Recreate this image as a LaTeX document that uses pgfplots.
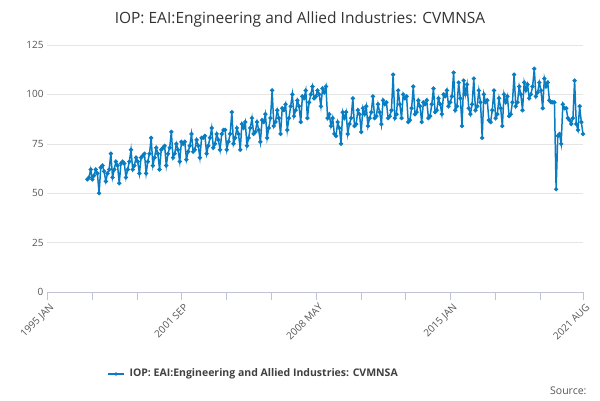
\documentclass[border=0pt]{standalone}
\usepackage{pgfplots}
\pgfplotsset{compat=1.18}
\usepackage{fontspec}
\setmainfont{Open Sans}
\definecolor{ln}{HTML}{0A7DC2}
\definecolor{tx}{HTML}{555555}
\begin{document}
\begin{tikzpicture}[x=1pt,y=1pt]
\useasboundingbox (0,0) rectangle (600,400);
\node[font=\fontsize{15.5}{18}\selectfont, text=black!80] at (300,381) {IOP: EAI:Engineering and Allied Industries: CVMNSA};
\begin{axis}[at={(47pt,108pt)},anchor=south west,scale only axis,width=536pt,height=247pt,
 xmin=0,xmax=319,ymin=0,ymax=125,
 axis x line*=bottom, axis y line*=left, y axis line style={draw=none}, x axis line style={color=blue!20!gray!40},
 ytick={0,25,...,125}, ymajorgrids, grid style={gray!20},
 ytick style={draw=none},
 y tick label style={font=\fontsize{10}{12}\selectfont,text=tx},
 /pgf/number format/assume math mode=true,
 xtick={0,80,160,240,319}, xticklabels={1995 JAN,2001 SEP,2008 MAY,2015 JAN,2021 AUG},
 minor xtick={26.67,53.33,106.67,133.33,186.67,213.33,266.67,293.33},
 x tick style={color=blue!20!gray!40}, major tick length=8pt, minor tick length=8pt,
 xtick align=outside,
 x tick label style={rotate=45,anchor=north east,font=\fontsize{10}{12}\selectfont,text=tx,xshift=3pt},
 clip=false]
\addplot[ln,line width=1.5pt,mark=*,mark size=1.3pt] table[x expr=\coordindex+24,y index=0,header=false] {
57
58
62
57
59
62
60
50
63
64
61
56
60
62
70
58
62
66
64
55
65
66
65
58
62
66
72
62
64
68
66
60
68
69
70
60
66
70
78
64
68
73
70
62
72
73
74
64
70
73
81
68
70
75
72
66
76
75
76
67
71
74
80
71
72
77
74
68
78
78
79
70
74
78
83
73
75
80
77
72
80
82
82
72
76
80
91
75
78
83
80
72
85
83
86
74
78
83
88
80
81
86
82
76
87
86
90
78
83
88
102
84
86
92
88
80
93
92
95
82
88
94
100
89
92
97
94
86
99
98
102
88
96
100
104
98
99
102
100
94
103
101
104
88
90
84
88
80
79
86
83
75
91
88
91
80
85
88
98
84
85
92
90
81
93
90
94
84
88
91
99
88
89
95
91
85
97
95
96
88
89
92
110
88
90
102
95
88
100
98
99
86
87
93
104
90
91
97
94
86
96
95
97
88
89
95
103
91
92
98
95
90
100
99
102
94
96
99
111
92
94
106
98
84
107
100
105
93
90
95
108
92
94
102
96
78
100
96
97
87
86
92
102
88
90
98
93
84
100
96
99
89
90
96
110
94
96
104
100
92
106
102
105
98
100
104
113
99
101
106
102
93
108
104
106
97
96
96
96
52
79
80
75
95
93
93
88
87
85
88
107
85
82
94
86
80
};
\end{axis}
\draw[ln,line width=1.5pt] (108,26)--(124,26); \fill[ln] (116,26) circle (1.8);
\node[anchor=west,font=\bfseries\fontsize{10.5}{12}\selectfont,text=black!75] at (126,26) {IOP: EAI:Engineering and Allied Industries: CVMNSA};
\node[anchor=east,font=\fontsize{10.5}{12}\selectfont,text=tx] at (590,9) {Source:};
\end{tikzpicture}
\end{document}
